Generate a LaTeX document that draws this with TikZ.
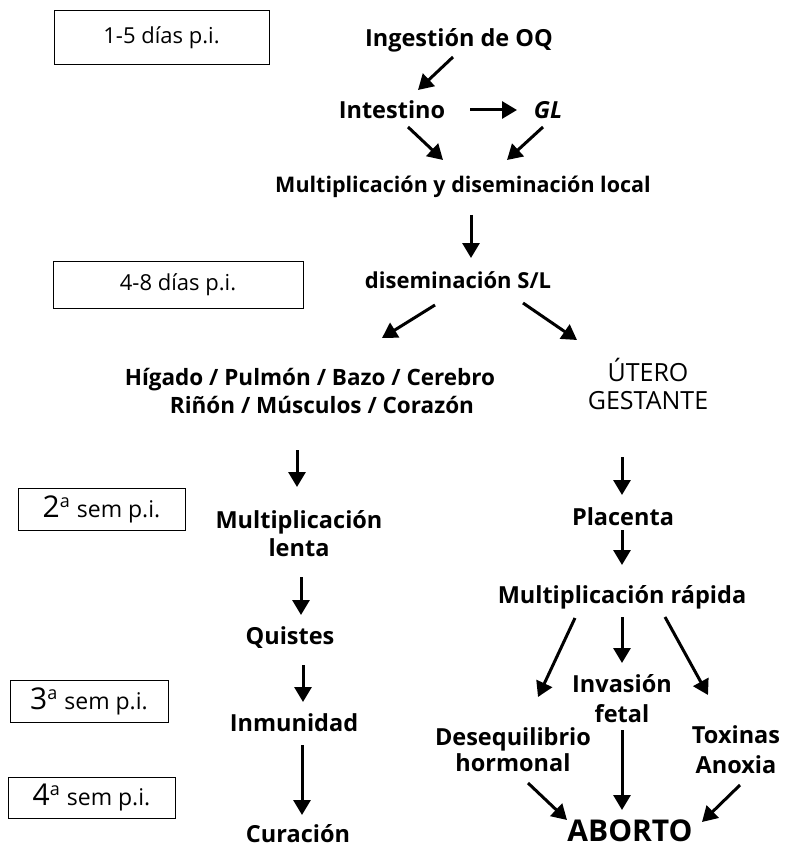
\documentclass[tikz,border=0pt]{standalone}
\usepackage{fontspec}
\setmainfont{Open Sans}
\usetikzlibrary{arrows.meta,calc}
\newcommand{\semlabel}[1]{{\fontsize{30}{30}\selectfont #1}\raisebox{10pt}{\fontsize{18}{18}\selectfont a}\hspace{7pt}{\fontsize{23}{23}\selectfont sem p.i.}}
\begin{document}
\begin{tikzpicture}[x=1pt,y=-1pt,
  lbl/.style={font=\fontsize{23.5}{28}\selectfont\bfseries, align=center, inner sep=0pt},
  lblr/.style={font=\fontsize{25}{28}\selectfont, align=center, inner sep=0pt},
  tbox/.style={draw, line width=1pt, inner sep=0pt, font=\fontsize{22}{24}\selectfont},
  arr/.style={line width=3pt, -{Triangle[length=15pt,width=17pt]}},
  big/.style={font=\fontsize{30}{32}\selectfont\bfseries}
]
\useasboundingbox[fill=white] (0,0) rectangle (785,850);

% time boxes
\node[tbox, minimum width=215, minimum height=54] (b1) at (161.5,38) {1-5 días p.i.};
\node[tbox, minimum width=250, minimum height=47] (b2) at (178,284.5) {4-8 días p.i.};
\node[tbox, minimum width=167, minimum height=42] (b3) at (101.5,509) {\semlabel{2}};
\node[tbox, minimum width=158, minimum height=42] (b4) at (89,701) {\semlabel{3}};
\node[tbox, minimum width=167, minimum height=41] (b5) at (91.5,797.5) {\semlabel{4}};

% flow nodes
\node[lbl] (ing) at (459,40) {Ingestión de OQ};
\node[lbl] (int) at (392,110) {Intestino};
\node[lbl] (gl) at (548,110) {\itshape GL};
\node[lbl, font=\fontsize{21.5}{28}\selectfont\bfseries] (mult) at (463,187) {Multiplicación y diseminación local};
\node[lbl, font=\fontsize{22}{28}\selectfont\bfseries] (dis) at (458,280) {diseminación S/L};
\node[lbl, font=\fontsize{22.5}{28}\selectfont\bfseries] (org) at (310,391) {Hígado / Pulmón / Bazo / Cerebro\\\hspace*{24pt}Riñón / Músculos / Corazón};
\node[lblr] (ute) at (648,384) {ÚTERO\\GESTANTE};
\node[lbl] (ml) at (299,534) {Multiplicación\\lenta};
\node[lbl] (qui) at (290,638) {Quistes};
\node[lbl] (inm) at (294,723) {Inmunidad};
\node[lbl] (cur) at (298,834) {Curación};
\node[lbl] (pla) at (623,517) {Placenta};
\node[lbl] (mr) at (622,597) {Multiplicación rápida};
\node[lbl, font=\fontsize{23.5}{30}\selectfont\bfseries] (inv) at (622,699) {Invasión\\fetal};
\node[lbl, font=\fontsize{23.5}{26}\selectfont\bfseries] (des) at (513,750) {Desequilibrio\\hormonal};
\node[lbl, font=\fontsize{23.5}{30}\selectfont\bfseries] (tox) at (736,750) {Toxinas\\Anoxia};
\node[inner sep=0pt, big] (abo) at (630,831) {ABORTO};

% connectors
\draw[arr] ($(ing)+(-6,17)$) -- ($(int)+(26,-20)$);
\draw[arr] ($(int)+(78,0)$) -- ($(gl)+(-31,0)$);
\draw[arr] ($(int)+(16,17)$) -- ($(mult)+(-20,-27)$);
\draw[arr] ($(gl)+(-5,17)$) -- ($(mult)+(44,-27)$);
\draw[arr] ($(mult)+(8,28)$) -- ($(dis)+(13,-22)$);
\draw[arr] ($(dis)+(-23,25)$) -- ($(org)+(72,-53)$);
\draw[arr] ($(dis)+(65,23)$) -- ($(ute)+(-71,-44)$);
\draw[arr] ($(org)+(-13,59)$) -- ($(ml)+(-2,-47)$);
\draw[arr] ($(ute)+(-26,73)$) -- ($(pla)+(-1,-22)$);
\draw[arr] ($(ml)+(2,43)$) -- ($(qui)+(11,-23)$);
\draw[arr] ($(pla)+(-1,13)$) -- ($(mr)+(0,-32)$);
\draw[arr] ($(qui)+(13,27)$) -- ($(inm)+(9,-21)$);
\draw[arr] ($(inm)+(8,22)$) -- ($(cur)+(4,-19)$);
\draw[arr] ($(mr)+(-47,21)$) -- ($(des)+(25,-53)$);
\draw[arr] ($(mr)+(0,20)$) -- ($(inv)+(0,-36)$);
\draw[arr] ($(mr)+(43,20)$) -- ($(tox)+(-28,-55)$);
\draw[arr] ($(des)+(15,33)$) -- ($(abo)+(-63,-11)$);
\draw[arr] ($(inv)+(0,31)$) -- ($(abo)+(-8,-21)$);
\draw[arr] ($(tox)+(4,35)$) -- ($(abo)+(72,-9)$);
\end{tikzpicture}
\end{document}
